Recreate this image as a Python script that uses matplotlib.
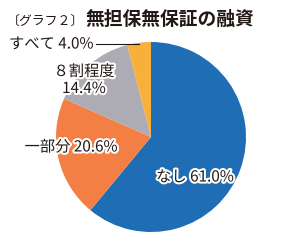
import matplotlib.pyplot as plt
import matplotlib.patheffects as pe

plt.rcParams['font.family'] = ['Noto Sans CJK JP', 'DejaVu Sans']

labels = ['なし', '一部分', '８割程度', 'すべて']
values = [61.0, 20.6, 14.4, 4.0]
colors = ['#1f6db5', '#f47f45', '#adacb4', '#f8b03b']

fig = plt.figure(figsize=(3, 2.4), dpi=100)
ax = fig.add_axes([0, 0, 1, 1])
ax.set_xlim(0, 300)
ax.set_ylim(0, 240)
ax.set_aspect('equal')
ax.axis('off')

ax.pie(values, colors=colors, startangle=90, counterclock=False,
       center=(151, 103), radius=95, wedgeprops=dict(linewidth=0))
ax.set_xlim(0, 300)
ax.set_ylim(0, 240)

stroke = [pe.withStroke(linewidth=3, foreground='white')]
tc = '#231815'
fs = 11

# title
ax.text(7, 215, '〔グラフ２〕', fontsize=9.3, color=tc, va='baseline')
ax.text(85, 215, '無担保無保証の融資', fontsize=13.5, fontweight='bold',
        color=tc, va='baseline')

ax.text(195, 63, f'{labels[0]} {values[0]:.1f}%', fontsize=fs, color=tc,
        ha='center', va='center', path_effects=stroke)
ax.text(71, 93, f'{labels[1]} {values[1]:.1f}%', fontsize=fs, color=tc,
        ha='center', va='center', path_effects=stroke)
ax.text(84, 160, f'{labels[2]}\n{values[2]:.1f}%', fontsize=fs, color=tc,
        ha='center', va='center', linespacing=1.0, path_effects=stroke)
ax.text(9, 196, f'{labels[3]} {values[3]:.1f}%', fontsize=fs, color=tc,
        ha='left', va='center', path_effects=stroke)
ax.plot([96, 139], [196, 196], color=tc, linewidth=0.8)

fig.savefig('out.png', dpi=100)
